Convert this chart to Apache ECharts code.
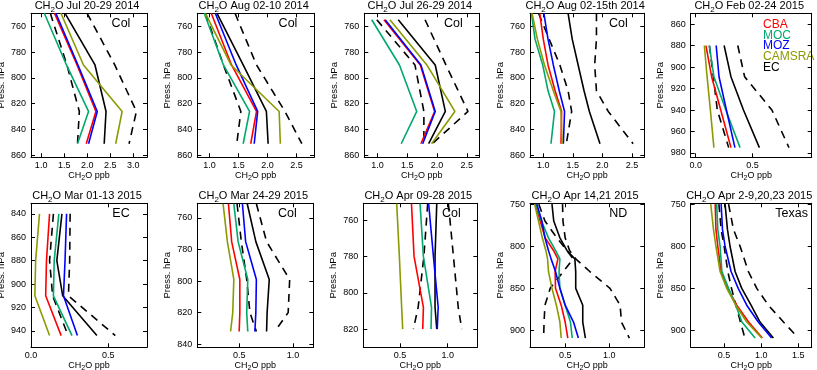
<!DOCTYPE html>
<html>
<head>
<meta charset="utf-8">
<script src="https://cdn.jsdelivr.net/npm/echarts@6/dist/echarts.min.js"></script>
<style>
  html, body { margin: 0; padding: 0; background: #fff; }
  #main { width: 817px; height: 370px; }
</style>
</head>
<body>
<div id="main"></div>
<script>
// model names / colours (legend order)
var modelNames = ['CBA', 'MOC', 'MOZ', 'CAMSRA', 'EC'];
var modelColors = ['#ff0000', '#00a86b', '#0000ff', '#8a9a00', '#000000'];

// panel titles and region tags
var dates = ['Jul 20-29 2014', 'Aug 02-10 2014', 'Jul 26-29 2014', 'Aug 02-15th 2014', 'Feb 02-24 2015',
             'Mar 01-13 2015', 'Mar 24-29 2015', 'Apr 09-28 2015', 'Apr 14,21 2015', 'Apr 2-9,20,23 2015'];
var tags = ['Col', 'Col', 'Col', 'Col', '', 'EC', 'Col', 'Col', 'ND', 'Texas'];

// axis ranges (x: ppb, y: hPa)
var xMin = [0.78, 0.79, 0.78, 0.775, -0.044, 0, 0.11, 0.115, 0.1, 0.05];
var xMax = [3.3, 2.8, 2.71, 2.71, 1.02, 0.75, 1.19, 1.31, 1.4, 1.68];
var yMin = [750, 750, 750, 750, 850, 831, 750.7, 750.8, 749, 749];
var yMax = [861.5, 861.5, 861.5, 861.5, 984, 954, 842, 830, 920, 920];

// tick labels
var xTicks = [[1.0, 1.5, 2.0, 2.5, 3.0], [1.0, 1.5, 2.0, 2.5], [1.0, 1.5, 2.0, 2.5], [1.0, 1.5, 2.0, 2.5], [0.0, 0.5],
              [0.0, 0.5], [0.5, 1.0], [0.5, 1.0], [0.5, 1.0], [0.5, 1.0, 1.5]];
var yTicks = [[760, 780, 800, 820, 840, 860], [760, 780, 800, 820, 840, 860], [760, 780, 800, 820, 840, 860],
              [760, 780, 800, 820, 840, 860], [860, 880, 900, 920, 940, 960, 980], [840, 860, 880, 900, 920, 940],
              [760, 780, 800, 820, 840], [760, 780, 800, 820], [750, 800, 850, 900], [750, 800, 850, 900]];

// panel 1: Jul 20-29 2014
var p1Lev = [750, 790, 826, 851];
var p1CBA = [1.29, 1.78, 2.19, 1.98];
var p1MOC = [1.07, 1.55, 2.03, 1.79];
var p1MOZ = [1.32, 1.80, 2.22, 2.03];
var p1CAM = [1.43, 1.92, 2.76, 2.62];
var p1EC  = [1.52, 2.17, 2.41, 2.37];
var p1Lo  = [1.20, 1.56, 1.83, 1.79];
var p1Hi  = [2.00, 2.60, 3.07, 2.91];

// panel 2: Aug 02-10 2014
var p2Lev = [750, 790, 826, 851];
var p2CBA = [1.03, 1.38, 1.81, 1.71];
var p2MOC = [0.91, 1.24, 1.69, 1.58];
var p2MOZ = [1.10, 1.46, 1.83, 1.77];
var p2CAM = [0.93, 1.37, 2.20, 2.22];
var p2EC  = [1.13, 1.58, 1.98, 2.01];
var p2Lo  = [0.93, 1.24, 1.54, 1.47];
var p2Hi  = [1.44, 1.81, 2.30, 2.59];

// panel 3: Jul 26-29 2014
var p3Lev = [755, 790, 826, 851];
var p3CBA = [1.11, 1.72, 1.96, 1.73];
var p3MOC = [0.905, 1.37, 1.66, 1.40];
var p3MOZ = [1.13, 1.73, 1.97, 1.76];
var p3CAM = [1.21, 1.83, 2.30, 1.91];
var p3EC  = [1.35, 1.97, 2.14, 1.86];
var p3Lo  = [0.99, 1.63, 1.78, 1.78];
var p3Hi  = [1.80, 2.15, 2.52, 1.92];

// panel 4: Aug 02-15th 2014
var p4Lev = [750, 770, 790, 810, 826, 851];
var p4CBA = [0.94, 1.00, 1.08, 1.20, 1.31, 1.30];
var p4MOC = [0.80, 0.86, 0.99, 1.08, 1.19, 1.13];
var p4MOZ = [1.01, 1.08, 1.17, 1.27, 1.36, 1.34];
var p4CAM = [0.81, 0.90, 1.02, 1.17, 1.30, 1.32];
var p4EC  = [1.42, 1.49, 1.59, 1.69, 1.78, 1.96];
var p4Lo  = [0.92, 1.10, 1.28, 1.42, 1.48, 1.39];
var p4Hi  = [1.90, 1.90, 1.87, 1.90, 2.10, 2.52];

// panel 5: Feb 02-24 2015
var p5Lev = [880, 909, 940, 975];
var p5CBA = [0.09, 0.14, 0.22, 0.31];
var p5MOC = [0.12, 0.16, 0.265, 0.39];
var p5MOZ = [0.18, 0.205, 0.27, 0.345];
var p5CAM = [0.076, 0.10, 0.129, 0.16];
var p5EC  = [0.25, 0.31, 0.42, 0.56];
var p5Lo  = [0.12, 0.155, 0.19, 0.29];
var p5Hi  = [0.37, 0.43, 0.67, 0.82];

// panel 6: Mar 01-13 2015
var p6Lev = [840, 880, 910, 944];
var p6CBA = [0.12, 0.10, 0.095, 0.195];
var p6MOC = [0.18, 0.15, 0.145, 0.265];
var p6MOZ = [0.23, 0.22, 0.21, 0.30];
var p6CAM = [0.055, 0.03, 0.025, 0.12];
var p6EC  = [0.20, 0.167, 0.205, 0.426];
var p6Lo  = [0.145, 0.12, 0.14, 0.24];
var p6Hi  = [0.253, 0.25, 0.242, 0.545];

// panel 7: Mar 24-29 2015
var p7Lev = [751, 775, 799, 820, 832];
var p7CBA = [0.40, 0.43, 0.506, 0.506, 0.50];
var p7MOC = [0.45, 0.49, 0.58, 0.57, 0.58];
var p7MOZ = [0.53, 0.56, 0.66, 0.655, 0.646];
var p7CAM = [0.35, 0.39, 0.45, 0.44, 0.42];
var p7EC  = [0.575, 0.655, 0.78, 0.76, 0.755];
var p7Lo  = [0.48, 0.52, 0.57, 0.60, 0.66];
var p7Hi  = [0.66, 0.755, 0.97, 0.956, 0.83];

// panel 8: Apr 09-28 2015
var p8Lev = [751, 780, 808, 820];
var p8CBA = [0.62, 0.647, 0.745, 0.738];
var p8MOC = [0.71, 0.745, 0.83, 0.825];
var p8MOZ = [0.80, 0.85, 0.90, 0.89];
var p8CAM = [0.465, 0.493, 0.517, 0.528];
var p8EC  = [0.885, 0.867, 0.867, 0.885];
var p8Lo  = [0.79, 0.75, 0.69, 0.64];
var p8Hi  = [1.007, 1.06, 1.11, 1.147];

// panel 9: Apr 14,21 2015
var p9Lev = [750, 770, 790, 805, 815, 830, 850, 870, 890, 909];
var p9CBA = [0.16, 0.216, 0.273, 0.367, 0.417, 0.386, 0.39, 0.455, 0.50, 0.53];
var p9MOC = [0.167, 0.23, 0.31, 0.39, 0.44, 0.43, 0.44, 0.50, 0.56, 0.58];
var p9MOZ = [0.178, 0.235, 0.27, 0.31, 0.34, 0.39, 0.44, 0.50, 0.595, 0.65];
var p9CAM = [0.152, 0.197, 0.24, 0.28, 0.30, 0.31, 0.35, 0.40, 0.44, 0.455];
var p9EC  = [0.35, 0.37, 0.44, 0.52, 0.61, 0.62, 0.62, 0.70, 0.70, 0.73];
var p9Lo  = [0.20, 0.27, 0.405, 0.52, 0.59, 0.48, 0.33, 0.27, 0.26, 0.255];
var p9Hi  = [0.47, 0.475, 0.50, 0.55, 0.62, 0.78, 1.01, 1.125, 1.14, 1.23];

// panel 10: Apr 2-9,20,23 2015
var p10Lev = [750, 780, 800, 830, 850, 870, 890, 909];
var p10CBA = [0.38, 0.39, 0.415, 0.46, 0.55, 0.67, 0.83, 1.015];
var p10MOC = [0.40, 0.415, 0.446, 0.47, 0.56, 0.657, 0.74, 0.917];
var p10MOZ = [0.46, 0.478, 0.513, 0.594, 0.69, 0.805, 0.96, 1.14];
var p10CAM = [0.32, 0.357, 0.39, 0.446, 0.536, 0.657, 0.805, 1.007];
var p10EC  = [0.513, 0.545, 0.58, 0.648, 0.738, 0.863, 0.984, 1.164];
var p10Lo  = [0.43, 0.46, 0.50, 0.55, 0.60, 0.66, 0.72, 0.78];
var p10Hi  = [0.56, 0.626, 0.715, 0.827, 0.94, 1.096, 1.30, 1.50];

var panels = [
  [p1Lev, p1CBA, p1MOC, p1MOZ, p1CAM, p1EC, p1Lo, p1Hi],
  [p2Lev, p2CBA, p2MOC, p2MOZ, p2CAM, p2EC, p2Lo, p2Hi],
  [p3Lev, p3CBA, p3MOC, p3MOZ, p3CAM, p3EC, p3Lo, p3Hi],
  [p4Lev, p4CBA, p4MOC, p4MOZ, p4CAM, p4EC, p4Lo, p4Hi],
  [p5Lev, p5CBA, p5MOC, p5MOZ, p5CAM, p5EC, p5Lo, p5Hi],
  [p6Lev, p6CBA, p6MOC, p6MOZ, p6CAM, p6EC, p6Lo, p6Hi],
  [p7Lev, p7CBA, p7MOC, p7MOZ, p7CAM, p7EC, p7Lo, p7Hi],
  [p8Lev, p8CBA, p8MOC, p8MOZ, p8CAM, p8EC, p8Lo, p8Hi],
  [p9Lev, p9CBA, p9MOC, p9MOZ, p9CAM, p9EC, p9Lo, p9Hi],
  [p10Lev, p10CBA, p10MOC, p10MOZ, p10CAM, p10EC, p10Lo, p10Hi]
];

// plot boxes [left, top, width, height]
var boxes = [
  [31, 13.3, 116, 144], [197.3, 13.3, 116.7, 144], [364.3, 13.3, 115, 144], [530, 13.3, 114.3, 144], [690.7, 13.3, 121, 144],
  [31, 203.3, 116, 144], [197.3, 203.3, 116, 144], [363.3, 203.3, 114, 144], [530, 203.3, 114.3, 144], [690.7, 203.3, 121, 144]
];

var FONT = 'Liberation Sans';
var chart = echarts.init(document.getElementById('main'), null, { renderer: 'canvas' });

var grids = [], xAxes = [], xAxesTop = [], yAxes = [], yAxesRight = [], series = [], titles = [], graphics = [];
var rich9 = {
  a: { fontSize: 9, fontFamily: FONT, fontWeight: 'normal', color: '#000', lineHeight: 12 },
  s: { fontSize: 7, fontFamily: FONT, fontWeight: 'normal', color: '#000', verticalAlign: 'bottom', lineHeight: 8 }
};
var rich11 = {
  a: { fontSize: 11, fontFamily: FONT, fontWeight: 'normal', color: '#000', lineHeight: 14 },
  s: { fontSize: 8, fontFamily: FONT, fontWeight: 'normal', color: '#000', verticalAlign: 'bottom', lineHeight: 9 }
};

for (var i = 0; i < 10; i++) {
  var b = boxes[i];
  grids.push({ left: b[0], top: b[1], width: b[2], height: b[3], containLabel: false, outerBoundsMode: 'none' });
  var lineStyle = { color: '#000', width: 1 };
  xAxes.push({
    gridIndex: i, type: 'value', position: 'bottom', min: xMin[i], max: xMax[i],
    axisLine: { show: true, onZero: false, lineStyle: lineStyle },
    axisTick: { show: true, inside: true, length: 4, customValues: xTicks[i], lineStyle: lineStyle },
    axisLabel: { customValues: xTicks[i], formatter: function (v) { return v.toFixed(1); },
                 fontSize: 9, fontFamily: FONT, color: '#000', margin: 4 },
    splitLine: { show: false },
    name: '{a|CH}{s|2}{a|O ppb}', nameLocation: 'middle', nameGap: 11,
    nameTextStyle: { fontWeight: 'normal', rich: rich9 }
  });
  xAxesTop.push({
    gridIndex: i, type: 'value', position: 'top', min: xMin[i], max: xMax[i],
    axisLine: { show: true, onZero: false, lineStyle: lineStyle },
    axisTick: { show: true, inside: true, length: 4, customValues: xTicks[i], lineStyle: lineStyle },
    axisLabel: { show: false }, splitLine: { show: false }
  });
  yAxes.push({
    gridIndex: i, type: 'value', position: 'left', inverse: true, min: yMin[i], max: yMax[i],
    axisLine: { show: true, onZero: false, lineStyle: lineStyle },
    axisTick: { show: true, inside: true, length: 4, customValues: yTicks[i], lineStyle: lineStyle },
    axisLabel: { customValues: yTicks[i], fontSize: 9, fontFamily: FONT, color: '#000', margin: 5 },
    splitLine: { show: false },
    name: 'Press. hPa', nameLocation: 'middle', nameGap: 25, nameRotate: 90,
    nameTextStyle: { fontSize: 9.5, fontFamily: FONT, color: '#000' }
  });
  yAxesRight.push({
    gridIndex: i, type: 'value', position: 'right', inverse: true, min: yMin[i], max: yMax[i],
    axisLine: { show: true, onZero: false, lineStyle: lineStyle },
    axisTick: { show: true, inside: true, length: 4, customValues: yTicks[i], lineStyle: lineStyle },
    axisLabel: { show: false }, splitLine: { show: false }
  });

  titles.push({
    text: '{a|CH}{s|2}{a|O ' + dates[i] + '}',
    left: b[0] + b[2] / 2 - 2, top: b[1] - 14, textAlign: 'center', padding: 0,
    textStyle: { fontWeight: 'normal', rich: rich11 }
  });

  if (tags[i]) {
    graphics.push({
      type: 'text', x: b[0] + b[2] - 26 + (tags[i] === 'Texas' ? 6 : 0), y: b[1] + 10,
      style: { text: tags[i], fill: '#000', font: '12.5px ' + FONT, align: 'center', verticalAlign: 'middle' }
    });
  }

  // draw order: EC bounds, EC, then models
  var d = panels[i], lev = d[0];
  var order = [
    { vals: d[6], color: '#000', dash: true, name: 'EC low' },
    { vals: d[7], color: '#000', dash: true, name: 'EC high' },
    { vals: d[5], color: modelColors[4], name: 'EC' },
    { vals: d[1], color: modelColors[0], name: 'CBA' },
    { vals: d[2], color: modelColors[1], name: 'MOC' },
    { vals: d[3], color: modelColors[2], name: 'MOZ' },
    { vals: d[4], color: modelColors[3], name: 'CAMSRA' }
  ];
  order.forEach(function (o) {
    series.push({
      type: 'line', name: o.name, xAxisIndex: i, yAxisIndex: i,
      data: lev.map(function (p, k) { return [o.vals[k], p]; }),
      symbol: 'none', silent: true, animation: false, clip: true,
      lineStyle: { color: o.color, width: 1.6, type: o.dash ? [8, 6] : 'solid' }
    });
  });
}

// legend inside panel 5
modelNames.forEach(function (n, k) {
  graphics.push({
    type: 'text', x: 763, y: 24.5 + k * 10.8,
    style: { text: n, fill: modelColors[k], font: '12px ' + FONT, align: 'left', verticalAlign: 'middle' }
  });
});

chart.setOption({
  backgroundColor: '#ffffff',
  animation: false,
  title: titles,
  grid: grids,
  xAxis: xAxes.concat(xAxesTop),
  yAxis: yAxes.concat(yAxesRight),
  series: series,
  graphic: graphics
});
</script>
</body>
</html>
